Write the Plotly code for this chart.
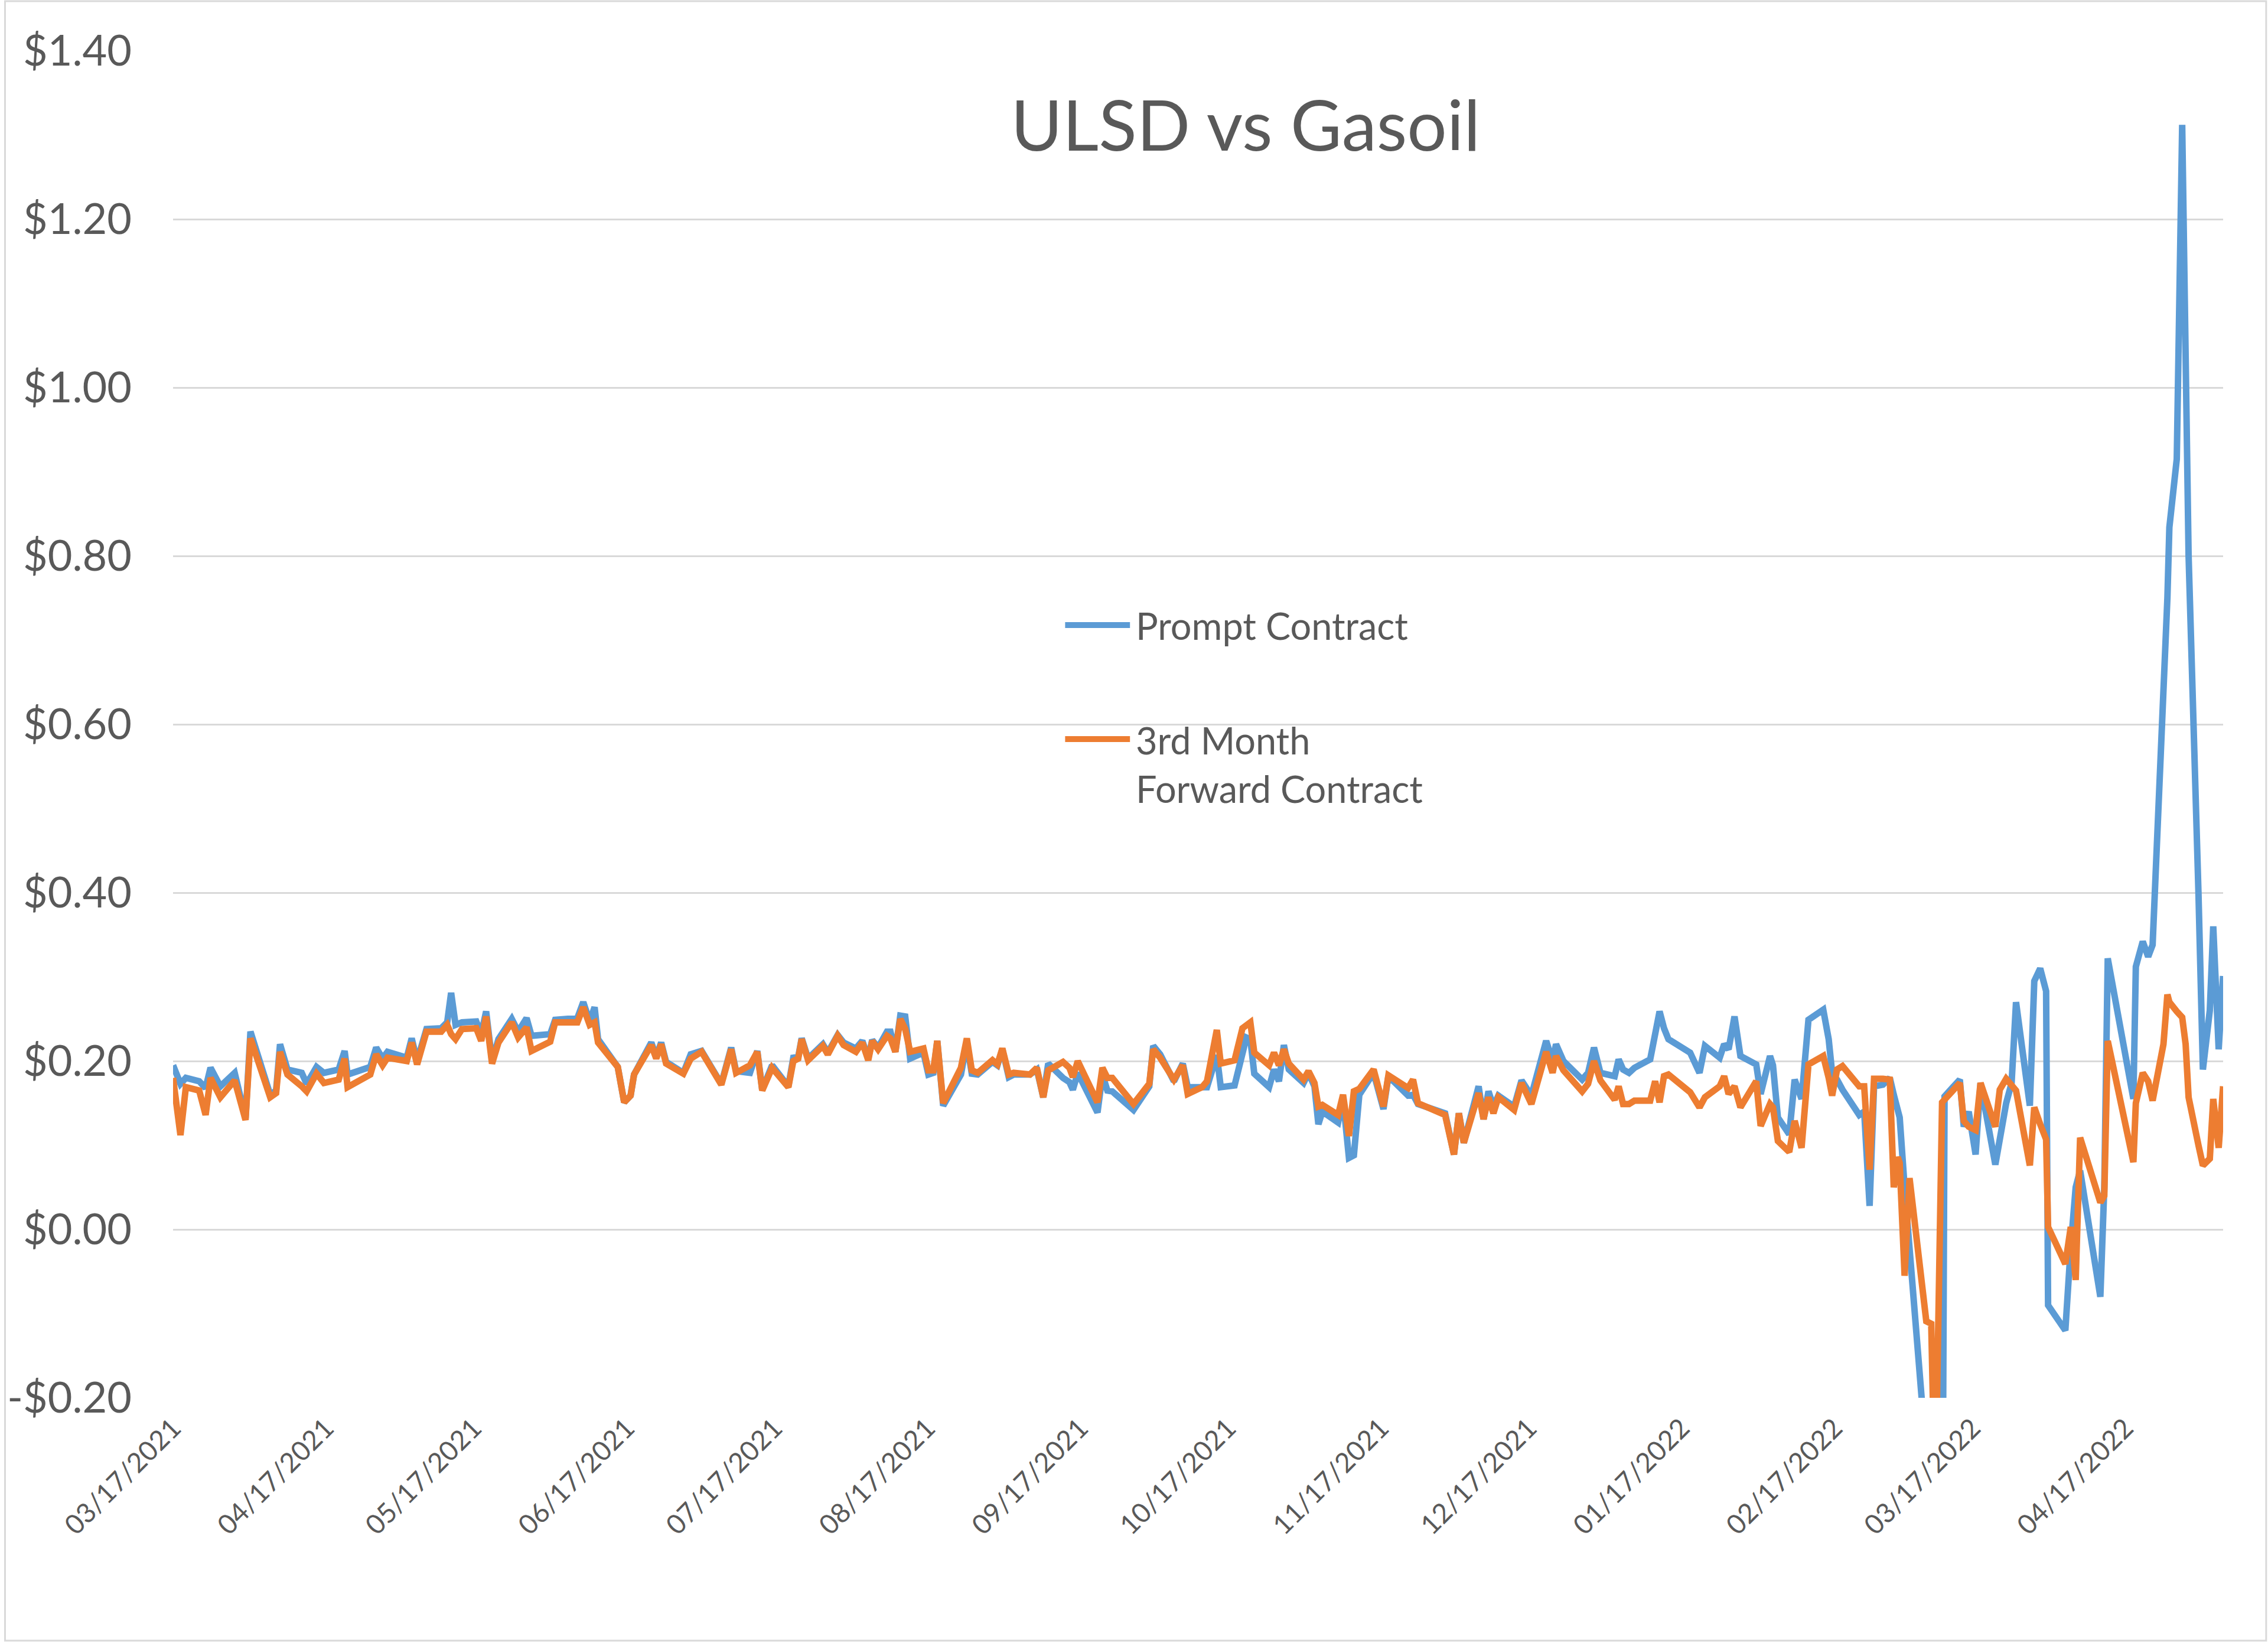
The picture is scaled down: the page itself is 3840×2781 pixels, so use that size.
import pandas as pd
import plotly.graph_objects as go

# ---------------- data ----------------
start_date = "2021-03-17"

day_offset = [
    0, 1.5, 2.6, 5.3, 6.6, 7.6, 9.6, 12.5, 14.7, 15.7, 19.7, 20.9, 21.7, 23.2, 26.1, 27.1,
    29.1, 30.6, 33.6, 34.8, 35.4, 40.0, 41.2, 42.5, 43.5, 47.4, 48.4, 49.5, 51.4, 54.4,
    55.6, 56.4, 57.3, 58.6, 61.5, 62.5, 63.5, 64.7, 66.0, 68.7, 70.0, 71.7, 72.7,
    76.5, 77.5, 82.0, 83.2, 84.5, 85.5, 86.2, 90.2, 91.5, 92.8, 93.5, 97.0, 98.0, 99.0,
    100.0, 103.5, 105.0, 107.2, 111.2, 113.2, 114.2, 117.0, 118.5, 119.5, 121.5, 124.8,
    125.8, 126.8, 127.5, 128.8, 131.8, 132.8, 134.8, 136.0, 138.5, 139.8, 141.0, 141.8, 143.0,
    144.8, 145.5, 146.5, 147.5, 148.5, 149.5, 152.2, 153.2, 154.2, 155.0, 156.2, 159.8,
    161.0, 162.0, 163.2, 166.2, 167.2, 168.2, 169.5, 170.5, 173.8, 175.2, 176.5, 177.5,
    180.5, 181.8, 182.5, 183.5, 187.5, 188.5, 189.5, 190.5, 194.8, 198.0, 198.8, 200.2,
    203.0, 204.8, 205.8, 208.7, 209.7, 211.7, 212.5, 215.3, 216.9, 217.7, 218.5, 219.3,
    222.3, 223.3, 224.3, 225.3, 226.3, 229.3, 230.3, 231.5, 232.3, 233.1, 236.3, 237.3,
    238.5, 239.5, 240.6, 243.5, 245.5, 246.5, 250.5, 251.5, 252.5, 258.0, 259.8, 260.8,
    261.8, 264.8, 265.8, 266.8, 267.8, 268.8, 272.0, 273.5, 275.5, 278.5, 279.8, 280.5,
    282.0, 285.8, 287.0, 288.2, 289.5, 292.4, 293.2, 294.1,
    295.3, 296.4, 299.6, 300.6, 301.5, 302.4, 303.3, 307.7, 309.6, 310.7, 313.7, 314.6,
    315.5, 316.7, 317.9, 321.1, 322.0, 323.9, 324.5, 325.5, 327.8, 328.9, 330.3, 331.7,
    334.7, 335.8, 336.5, 337.5, 338.6, 342.0, 343.0, 344.1, 345.0, 346.8, 348.2,
    349.0, 349.8, 350.2, 351.2, 352.2, 355.6, 356.6, 357.4, 358.8, 359.3, 362.4, 363.2,
    364.2, 365.6, 366.6, 369.6, 370.5, 371.8, 372.9, 373.8, 376.6, 377.5, 378.7, 379.9,
    380.3, 383.8, 384.9, 385.9, 386.8, 390.9, 391.7, 392.4, 397.6, 398.1, 399.5, 400.6,
    401.5, 403.7, 404.5, 404.9, 406.4, 407.5, 408.2, 408.8, 410.8, 411.7, 413.1, 413.8,
    414.9, 415.8,
]

# None = no readable vertex of that series at that date (line drawn straight through)
prompt = [
    .195, .173, .180, .176, .168, .192, .170, .186, .132, .235, .160, .165, .220, .190, .186, .173,
    .193, .186, .190, .212, .184, .193, .216, .203, .211, .204, .227, .200, .238, .239,
    .246, .281, .243, .246, .247, .232, .259, .200, .226, .250, .235, .251, .230,
    .232, .249, .251, .270, .247, .264, .226, .193, .151, .159, .184, .222, .205, .222,
    .199, .186, .208, .212, .173, .216, .188, .186, .212, .166, .195, .170,
    .204, .205, .227, .203, .220, .210, .231, .222, .215, .224, .203, .225, .216,
    .235, .235, .211, .254, .253, .203, .210, .184, .186, .224, .147, .184,
    .222, .185, .184, .199, .195, .214, .181, .184, .184, .190, .157, .197,
    .180, .175, .166, .186, .139, .184, .165, .164, .142, .170, .218, .208,
    .176, .197, .169, .168, .169, .207, .169, .171, .207, .228, .226, .185,
    .169, .190, .176, .219, .190, .174, .186, .170, .125, .140, .127, .155,
    .085, .088, .160, .186, .143, .182, .159, .160, .149, .138, .089, .138,
    .103, .170, .131, .164, .146, .159, .146, .177, .159, .224, .200, .220,
    .200, .178, .186, .216, .186, .182, .202, .190,
    .186, .192, .202, .230, .259, .239, .226, .210, .186, .218, .204, .220,
    .214, .253, .206, .196, .161, .206, .195, .133, .113, .178, .155, .249,
    .261, .226, .186, .178, .166, .136, .140, .028, .170, .172, .180,
    .160, .140, .133, .050, -.030, None, None, None, -.500, .158, .178, .122,
    .140, .089, .174, .077, .110, .150, .174, .270, .147, .295, .310, .283,
    -.090, -.120, -.020, .050, .070, -.080, .050, .322, .155, .312, .342, .324,
    .338, .617, .750, .834, .915, 1.312, .950, .800, .400, .190, .260, .360,
    .214, .301,
]

third_month = [
    .180, .112, .169, .165, .136, .180, .157, .177, .130, .227, .157, .162, .211, .184, .170, .164,
    .185, .174, .178, .203, .169, .184, .208, .195, .204, .200, .222, .196, .235, .235,
    .243, .232, .226, .238, .239, .224, .253, .197, .222, .246, .228, .240, .212,
    .223, .246, .246, .264, .243, .246, .222, .193, .151, .159, .184, .219, .203, .220,
    .197, .185, .203, .211, .172, .214, .186, .195, .211, .165, .192, .169,
    .200, .203, .226, .201, .218, .208, .230, .219, .211, .222, .201, .224, .214,
    .230, .227, .211, .250, .238, .211, .215, .189, .189, .224, .150, .192,
    .227, .189, .186, .201, .196, .215, .184, .186, .184, .192, .157, .189,
    .199, .192, .181, .200, .151, .192, .180, .180, .149, .173, .214, .204,
    .178, .195, .161, .169, .176, .237, .197, .201, .239, .243, .246, .210,
    .195, .210, .195, .214, .197, .178, .188, .174, .146, .148, .136, .160,
    .111, .164, .167, .190, .146, .183, .168, .178, .150, .136, .089, .138,
    .103, .162, .131, .157, .138, .157, .142, .174, .149, .211, .186, .206,
    .189, .164, .173, .200, .177, .154, .170, .149,
    .149, .153, .153, .176, .151, .182, .184, .163, .145, .157, .170, .182,
    .161, .170, .145, .176, .123, .149, .145, .105, .092, .129, .097, .196,
    .206, .180, .159, .190, .194, .170, .170, .071, .179, .179, .178,
    .050, .086, .079, -.055, .061, -.109, -.112, -.330, .151, None, .174, .129,
    .122, .118, .174, .122, .166, .179, .170, .165, .076, .145, .125, .107,
    .003, -.041, .003, -.060, .109, .032, .040, .224, .080, .150, .186, .176,
    .153, .220, .279, .270, .259, .252, .220, .157, .100, .076, .084, .155,
    .097, .170,
]

series_names = ["Prompt Contract", "3rd Month<br>Forward Contract"]
series_colors = ["#5B9BD5", "#ED7D31"]

tick_labels = [
    "03/17/2021", "04/17/2021", "05/17/2021", "06/17/2021", "07/17/2021", "08/17/2021",
    "09/17/2021", "10/17/2021", "11/17/2021", "12/17/2021", "01/17/2022", "02/17/2022",
    "03/17/2022", "04/17/2022",
]
y_tick_values = [-0.2, 0.0, 0.2, 0.4, 0.6, 0.8, 1.0, 1.2, 1.4]
y_tick_labels = ["-$0.20", "$0.00", "$0.20", "$0.40", "$0.60", "$0.80", "$1.00", "$1.20", "$1.40"]

# ---------------- layout constants ----------------
W, H = 3840, 2781
ML, MR, MT, MB = 287, 76, 86, 415
FONT = "Lato"
TXT = "#595959"
GRID = "#D9D9D9"

dates = pd.Timestamp(start_date) + pd.to_timedelta(day_offset, unit="D")
tick_dates = pd.to_datetime(tick_labels, format="%m/%d/%Y")
y_min, y_max = y_tick_values[0], y_tick_values[-1]

PW, PH = W - ML - MR, H - MT - MB


def px_x(x):
    return (x - ML) / PW


def px_y(y):
    return 1 - (y - MT) / PH


fig = go.Figure()
for name, vals, col in zip(series_names, [prompt, third_month], series_colors):
    fig.add_trace(go.Scatter(
        x=dates, y=vals, mode="lines", name=name.replace("<br>", " "),
        line=dict(color=col, width=11), connectgaps=True, showlegend=False,
    ))

fig.update_layout(
    width=W, height=H,
    margin=dict(l=ML, r=MR, t=MT, b=MB),
    paper_bgcolor="white", plot_bgcolor="white",
    font=dict(family=FONT, color=TXT),
    title=dict(
        text="ULSD vs Gasoil", xref="container", yref="container",
        x=2109 / W, y=1 - 213 / H, xanchor="center", yanchor="middle",
        font=dict(family=FONT, size=119, color=TXT),
    ),
    xaxis=dict(
        type="date", range=[dates[0], dates[-1]],
        tickvals=tick_dates, ticktext=tick_labels, tickangle=-45,
        ticks="", showgrid=False, showline=False, zeroline=False,
        tickfont=dict(family=FONT, size=46, color=TXT), ticklabelstandoff=14,
    ),
    xaxis2=dict(
        type="date", overlaying="x", matches="x", anchor="free",
        position=(0 - y_min) / (y_max - y_min),
        tickvals=tick_dates, showticklabels=False,
        ticks="outside", ticklen=17, tickwidth=3, tickcolor=GRID,
        showline=True, linecolor=GRID, linewidth=3,
        showgrid=False, zeroline=False,
    ),
    yaxis=dict(
        range=[y_min, y_max], tickvals=y_tick_values, ticktext=y_tick_labels,
        showgrid=True, gridcolor=GRID, gridwidth=3, zeroline=False,
        showline=False, ticks="", ticklabelstandoff=69,
        tickfont=dict(family=FONT, size=72, color=TXT),
    ),
)

# custom legend (long line samples like the original)
legend_rows = [(1058, 1058), (1251, 1293)]
for (line_y, text_y), name, col in zip(legend_rows, series_names, series_colors):
    fig.add_shape(type="line", xref="paper", yref="paper",
                  x0=px_x(1800), x1=px_x(1910), y0=px_y(line_y), y1=px_y(line_y),
                  line=dict(color=col, width=10))
    fig.add_annotation(text=name, xref="paper", yref="paper",
                       x=px_x(1918), y=px_y(text_y), xanchor="left", yanchor="middle",
                       align="left", showarrow=False,
                       font=dict(family=FONT, size=63, color=TXT))

# chart border
fig.add_shape(type="rect", xref="paper", yref="paper",
              x0=px_x(2), x1=px_x(3837), y0=px_y(2777), y1=px_y(2),
              line=dict(color=GRID, width=3), fillcolor="rgba(0,0,0,0)", layer="below")

fig.write_html("out.html", config={"displayModeBar": False},
               post_script="document.body.style.margin='0';")
